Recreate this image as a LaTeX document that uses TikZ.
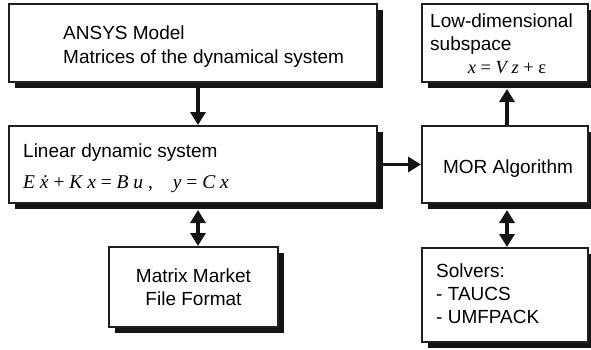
\documentclass[tikz,border=0pt]{standalone}
\usepackage{fontspec}
\setmainfont{Liberation Sans}
\newfontfamily\tms{Liberation Serif}
\usetikzlibrary{arrows.meta,shadows}

\begin{document}
\begin{tikzpicture}[x=1pt,y=-1pt,
  box/.style={draw=black!88, line width=2pt, fill=white, inner sep=0pt,
    general shadow={fill=black!92, shadow xshift=6pt, shadow yshift=-6pt}},
  lbl/.style={anchor=base west, inner sep=0pt, font=\fontsize{19}{23}\selectfont},
  ctr/.style={anchor=base, inner sep=0pt, font=\fontsize{19}{23}\selectfont},
  eqn/.style={inner sep=0pt, font=\tms\fontsize{19.5}{22}\selectfont},
  tipA/.tip={Triangle[width=15pt,length=13pt]},
  flow/.style={line width=3.6pt, draw=black!92, -tipA},
  both/.style={line width=3.6pt, draw=black!92, tipA-tipA},
]
\useasboundingbox (0,0) rectangle (591,349);

% boxes
\node[box, minimum width=368pt, minimum height=78pt] (ansys) at (193,43) {};
\node[box, minimum width=368pt, minimum height=77pt] (lin)   at (193,164.5) {};
\node[box, minimum width=166pt, minimum height=78pt] (low)   at (505,43) {};
\node[box, minimum width=166pt, minimum height=77pt] (mor)   at (505,164.5) {};
\node[box, minimum width=169pt, minimum height=80pt] (mm)    at (193.5,287) {};
\node[box, minimum width=166pt, minimum height=94pt] (sol)   at (505,295) {};

% texts
\node[lbl] (t1a) at (63,39) {ANSYS Model};
\node[lbl] (t1b) at (63,63) {Matrices of the dynamical system};
\node[lbl] (t2a) at (23,157) {Linear dynamic system};
\node[eqn, anchor=base west] (t2b) at (23,188)
  {\itshape E \.{x} \upshape+ \itshape K x \upshape= \itshape B u\upshape\ ,\hspace{20pt}\itshape y \upshape= \itshape C x};
\node[lbl] (t3a) at (430,27) {Low-dimensional};
\node[lbl] (t3b) at (430,50) {subspace};
\node[eqn, anchor=base, font=\tms\fontsize{18.5}{20}\selectfont] (t3c) at (507,73)
  {\itshape x \upshape= \itshape V z \upshape+ ε};
\node[ctr] (t4) at (508,173) {MOR Algorithm};
\node[ctr] (t5a) at (193.5,282) {Matrix Market};
\node[ctr] (t5b) at (193.5,305) {File Format};
\node[lbl] (t6a) at (436,277) {Solvers:};
\node[lbl] (t6b) at (436,300) {- TAUCS};
\node[lbl] (t6c) at (436,323) {- UMFPACK};

% connectors
\coordinate (p1) at ([xshift=5pt]ansys.south);
\draw[flow] (p1) -- (p1 |- lin.north);
\draw[flow] (lin.east) -- (mor.west);
\coordinate (p2) at ([xshift=5pt,yshift=-6pt]lin.south);
\draw[both] (p2) -- (p2 |- mm.north);
\coordinate (p3) at ([xshift=2pt]mor.north);
\coordinate (q3) at ([yshift=-6pt]low.south);
\draw[flow] (p3) -- (p3 |- q3);
\coordinate (p4) at ([xshift=2pt,yshift=-6pt]mor.south);
\draw[both] (p4) -- (p4 |- sol.north);
\end{tikzpicture}
\end{document}
